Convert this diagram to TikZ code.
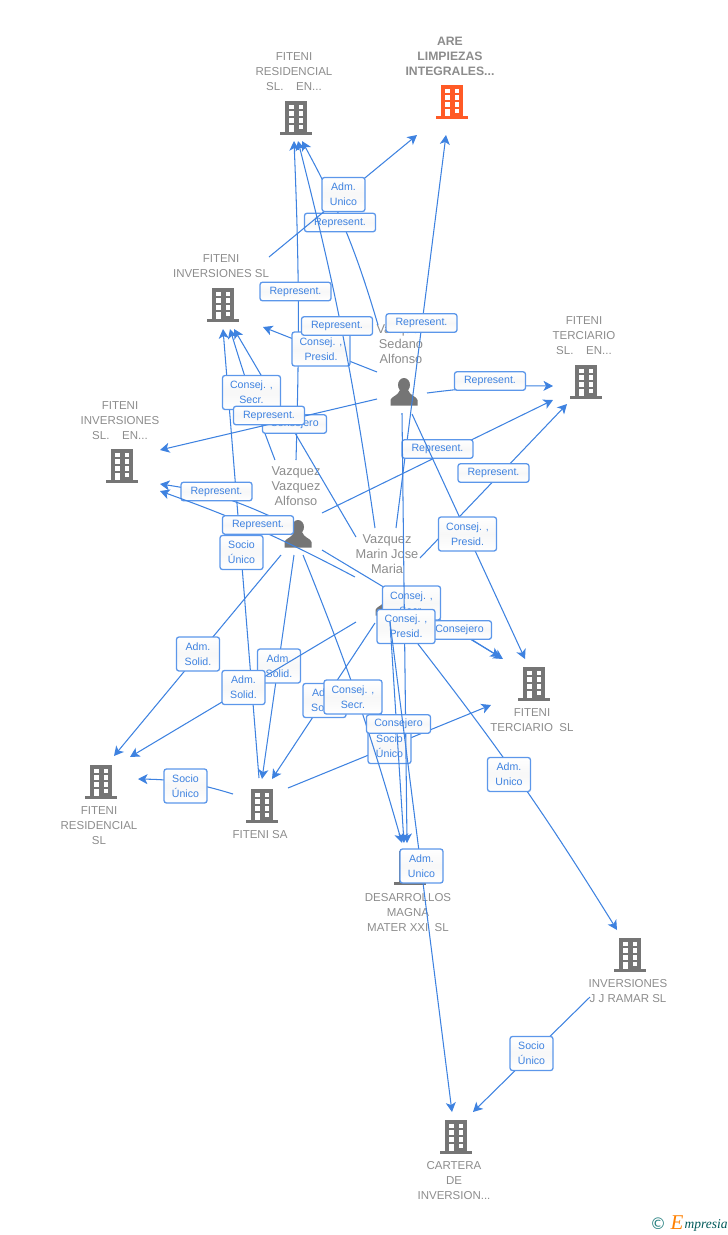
\documentclass[tikz,border=0pt]{standalone}
\usepackage{fontspec}
\setmainfont{Liberation Sans}
\newfontfamily\logofont{Liberation Serif}
\newfontfamily\symfont{DejaVu Sans}
\usetikzlibrary{arrows.meta,shadings}
\definecolor{linkblue}{HTML}{3E82E0}
\definecolor{boxblue}{HTML}{5C97EA}
\definecolor{iconGray}{HTML}{757575}
\definecolor{labelGray}{HTML}{8C8C8C}
\definecolor{orangeIcon}{HTML}{FF5A26}
\tikzset{
  link/.style={draw=linkblue,line width=1.05pt},
  arr/.style={link,-{Stealth[length=9.5pt,width=10pt,inset=2.5pt]}},
  badge/.style={draw=boxblue,line width=1.3pt,rounded corners=2.5pt,top color=white,bottom color=white,middle color=black!3,
     text=linkblue,font=\fontsize{10.6}{15}\selectfont,align=center,inner sep=0pt},
  twoS/.style={badge,minimum width=43pt,minimum height=34pt},
  twoW/.style={badge,minimum width=58pt,minimum height=34pt},
  oneR/.style={badge,minimum width=71pt,minimum height=18.5pt},
  oneC/.style={badge,minimum width=64pt,minimum height=18.5pt},
  comp/.style={text=labelGray,font=\fontsize{11.5}{15}\selectfont,align=center,inner sep=0pt},
  pers/.style={text=labelGray,font=\fontsize{12.8}{15}\selectfont,align=center,inner sep=0pt},
  bldg/.pic={
    \fill[#1] (-11,-17) rectangle (11,15);
    \fill[#1] (-16,14) rectangle (16,16.5);
    \foreach \yy in {-13.3,-6.7,-0.1}{
      \fill[white] (-7.2,\yy) rectangle (-2.5,\yy+4.6);
      \fill[white] (2.5,\yy) rectangle (7.2,\yy+4.6);
    }
    \fill[white] (-7.2,6.7) rectangle (-2.5,13.7);
    \fill[white] (2.5,6.7) rectangle (7.2,11.3);
  },
  perso/.pic={
    \fill[iconGray] (0,-7) ellipse (6 and 7);
    \fill[iconGray] (-13.5,13.5) -- (-13.5,8) .. controls (-13,4.5) and (-6,4) .. (-4,-2) -- (4,-2) .. controls (6,4) and (13,4.5) .. (13.5,8) -- (13.5,13.5) -- cycle;
  }
}
\begin{document}
\begin{tikzpicture}[x=1pt,y=-1pt]
\useasboundingbox (0,0) rectangle (728,1235);

% ---- building and person icons
\pic (iRes) at (296,118) {bldg=iconGray};
\pic (iAre) at (452,102) {bldg=orangeIcon};
\pic (iInv) at (223,305) {bldg=iconGray};
\pic (iTerE) at (586,382) {bldg=iconGray};
\pic (iInvE) at (122,466) {bldg=iconGray};
\pic (iTer) at (534,684) {bldg=iconGray};
\pic (iResS) at (101,782) {bldg=iconGray};
\pic (iSa) at (262,806) {bldg=iconGray};
\pic (iDes) at (410,868) {bldg=iconGray};
\pic (iJJ) at (630,955) {bldg=iconGray};
\pic (iCar) at (456,1137) {bldg=iconGray};
\pic (iP1) at (404,392) {perso};
\pic (iP2) at (298,534) {perso};
\pic (iP3) at (389,602) {perso};

% ---- labels
\node[comp] (lRes) at (294,72) {FITENI\\RESIDENCIAL\\SL.\ \ \ \ EN...};
\node[comp,font=\fontsize{12.2}{15}\bfseries\selectfont] (lAre) at (450,56) {ARE\\LIMPIEZAS\\INTEGRALES...};
\node[comp] (lInv) at (221,266.5) {FITENI\\INVERSIONES SL};
\node[comp] (lTerE) at (584,336) {FITENI\\TERCIARIO\\SL.\ \ \ \ EN...};
\node[comp] (lInvE) at (120,421) {FITENI\\INVERSIONES\\SL.\ \ \ \ EN...};
\node[comp] (lTer) at (532,720.5) {FITENI\\TERCIARIO\ \ SL};
\node[comp] (lResS) at (99,826) {FITENI\\RESIDENCIAL\\SL};
\node[comp] (lSa) at (260,835) {FITENI SA};
\node[comp] (lDes) at (408,913) {DESARROLLOS\\MAGNA\\MATER XXI\ \ SL};
\node[comp] (lJJ) at (628,991.5) {INVERSIONES\\J J RAMAR SL};
\node[comp] (lCar) at (454,1181) {CARTERA\\DE\\INVERSION...};
\node[pers] (lP1) at (401,344) {Vazquez\\Sedano\\Alfonso};
\node[pers] (lP2) at (296,486) {Vazquez\\Vazquez\\Alfonso};
\node[pers] (lP3) at (387,554) {Vazquez\\Marin Jose\\Maria};

% ---- connector end points
\coordinate (s1) at (378,325);   \coordinate (t1) at (302,141);
\coordinate (s2) at (269,257);   \coordinate (t2) at (417,135);
\coordinate (s3) at (296,460);   \coordinate (t3) at (294,141);
\coordinate (s4) at (375,528);   \coordinate (t4) at (298,141);
\coordinate (s5) at (377,372);   \coordinate (t5) at (263,327);
\coordinate (s6) at (259,778);   \coordinate (t6) at (223,329);
\coordinate (s7) at (275,460);   \coordinate (t7) at (230,329);
\coordinate (s8) at (356,537);   \coordinate (t8) at (234,329);
\coordinate (s9) at (377,399);   \coordinate (t9) at (160,450);
\coordinate (s10) at (272,517);  \coordinate (t10) at (160,484);
\coordinate (s11) at (355,577);  \coordinate (t11) at (160,491);
\coordinate (s12) at (281,555);  \coordinate (t12) at (114,756);
\coordinate (s13) at (294,555);  \coordinate (t13) at (262,779);
\coordinate (s14) at (303,555);  \coordinate (t14) at (402,843);
\coordinate (s15) at (375,623);  \coordinate (t15) at (272,779);
\coordinate (s16) at (356,622);  \coordinate (t16) at (130,757);
\coordinate (s17) at (288,788);  \coordinate (t17) at (491,705);
\coordinate (s18) at (233,794);  \coordinate (t18) at (138,779);
\coordinate (s19) at (402,413);  \coordinate (t19) at (407,843);
\coordinate (s20) at (390,622);  \coordinate (t20) at (452,1112);
\coordinate (s21) at (390,622);  \coordinate (t21) at (404,843);
\coordinate (s22) at (412,414);  \coordinate (t22) at (525,659);
\coordinate (s23) at (322,550);  \coordinate (t23) at (500,657);
\coordinate (s24) at (405,598);  \coordinate (t24) at (503,659);
\coordinate (s25) at (396,528);  \coordinate (t25) at (446,135);
\coordinate (s26) at (322,513);  \coordinate (t26) at (553,400);
\coordinate (s27) at (420,558);  \coordinate (t27) at (567,404);
\coordinate (s28) at (427,393);  \coordinate (t28) at (553,386);
\coordinate (s29) at (418,644);  \coordinate (t29) at (617,930);
\coordinate (s30) at (590,997);  \coordinate (t30) at (473,1112);

% ---- connectors and their badges, in stacking order
\draw[arr] (s1) to[bend right=6] (t1);
\node[oneR] (b1) at (340,222.5) {Represent.};
\draw[arr] (s2) -- (t2);
\node[twoS] (b2) at (343.5,194.5) {Adm.\\Unico};

\draw[arr] (s3) to[bend right=2] (t3);
\node[oneR] (b3) at (295.5,291.5) {Represent.};
\draw[arr] (s5) -- (t5);
\node[twoW] (b5) at (321,349) {Consej. ,\\Presid.};
\draw[arr] (s4) to[bend right=3] (t4);
\node[oneR] (b4) at (337,326) {Represent.};

\draw[arr] (s6) -- (t6);
\draw[arr] (s7) to[bend left=2] (t7);
\draw[arr] (s8) -- (t8);
\node[twoW] (b7) at (251.5,392.5) {Consej. ,\\Secr.};
\node[oneC] (b8) at (294.5,424) {Consejero};
\draw[arr] (s9) -- (t9);
\node[oneR] (b9) at (269,415.5) {Represent.};

\draw[arr] (s25) -- (t25);
\node[oneR] (b25) at (421.5,323) {Represent.};
\draw[arr] (s28) to[bend left=4] (t28);
\node[oneR] (b28) at (490,381) {Represent.};
\draw[arr] (s26) -- (t26);
\node[oneR] (b26) at (437.5,449) {Represent.};
\draw[arr] (s27) -- (t27);
\node[oneR] (b27) at (493.5,473) {Represent.};
\draw[arr] (s22) -- (t22);
\node[twoW] (b22) at (467.5,534) {Consej. ,\\Presid.};

\draw[arr] (s10) to[bend right=8] (t10);
\node[oneR] (b10) at (216.5,491.5) {Represent.};
\draw[arr] (s11) to[bend right=4] (t11);
\node[oneR] (b11) at (258,525) {Represent.};
\node[twoS] (b6) at (241.5,552.5) {Socio\\Único};

\draw[arr] (s12) -- (t12);
\node[twoS] (b12) at (198,654) {Adm.\\Solid.};
\draw[arr] (s13) -- (t13);
\node[twoS] (b13) at (279,666) {Adm.\\Solid.};
\draw[arr] (s16) -- (t16);
\node[twoS] (b16) at (243.5,687.5) {Adm.\\Solid.};
\draw[arr] (s15) -- (t15);
\node[twoS] (b15) at (324.5,700.5) {Adm.\\Solid.};
\draw[arr] (s18) to[bend right=8] (t18);
\node[twoS] (b18) at (185.5,786) {Socio\\Único};

\draw[arr] (s17) -- (t17);
\node[twoS] (b17) at (389.5,746.5) {Socio\\Único};
\draw[arr] (s14) to[bend left=3] (t14);
\node[twoW] (b14) at (353,697) {Consej. ,\\Secr.};

\draw[arr] (s23) -- (t23);
\draw[arr] (s24) -- (t24);
\node[oneC] (b24) at (459.5,630) {Consejero};
\node[twoW] (b23) at (411.5,603) {Consej. ,\\Secr.};
\draw[arr] (s19) -- (t19);
\node[twoW] (b19) at (406,626.5) {Consej. ,\\Presid.};
\draw[arr] (s21) -- (t21);
\node[oneC] (b21) at (398.5,724) {Consejero};
\draw[arr] (s20) -- (t20);
\node[twoS] (b20) at (421.5,866) {Adm.\\Unico};

\draw[arr] (s29) to[bend left=3] (t29);
\node[twoS] (b29) at (509,774.5) {Adm.\\Unico};
\draw[arr] (s30) -- (t30);
\node[twoS] (b30) at (531.5,1053.5) {Socio\\Único};

% ---- logo
\node[inner sep=0pt,text=teal!70!gray,font=\symfont\fontsize{16}{16}\selectfont] (logoC) at (658,1224) {©};
\node[inner sep=0pt,text=orange,font=\logofont\itshape\fontsize{21}{21}\selectfont] (logoE) at (677,1223) {E};
\node[inner sep=0pt,anchor=west,text=teal!70!black,font=\logofont\itshape\fontsize{13.5}{14}\selectfont] (logoT) at (684.5,1225) {mpresia};
\end{tikzpicture}
\end{document}
